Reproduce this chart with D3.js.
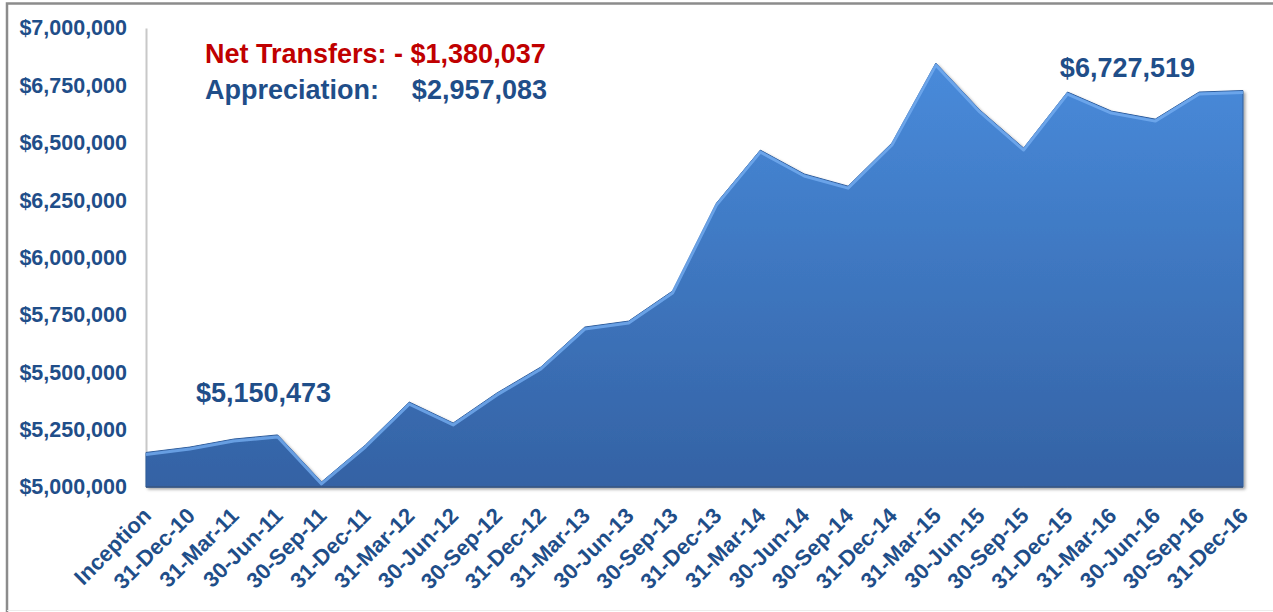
<!DOCTYPE html>
<html>
<head>
<meta charset="utf-8">
<script src="https://cdn.jsdelivr.net/npm/d3@7"></script>
<style>
    html, body { margin: 0; padding: 0; background: #ffffff; }
    svg { display: block; font-family: "Liberation Sans", Arial, sans-serif; }
</style>
</head>
<body>
<svg id="chart" width="1273" height="612"></svg>
<script>
    // === Data ===
    const periods = [
        'Inception', '31-Dec-10', '31-Mar-11', '30-Jun-11', '30-Sep-11', '31-Dec-11',
        '31-Mar-12', '30-Jun-12', '30-Sep-12', '31-Dec-12', '31-Mar-13', '30-Jun-13',
        '30-Sep-13', '31-Dec-13', '31-Mar-14', '30-Jun-14', '30-Sep-14', '31-Dec-14',
        '31-Mar-15', '30-Jun-15', '30-Sep-15', '31-Dec-15', '31-Mar-16', '30-Jun-16',
        '30-Sep-16', '31-Dec-16'
    ];
    const values = [
        5150473, 5174000, 5209000, 5227000, 5022000, 5183000,
        5370000, 5279000, 5410000, 5523000, 5697000, 5723000,
        5854000, 6237000, 6468000, 6364000, 6311000, 6499000,
        6847000, 6643000, 6477000, 6721000, 6638000, 6603000,
        6721000, 6727519
    ];
    const yTicks = [5000000, 5250000, 5500000, 5750000, 6000000, 6250000, 6500000, 6750000, 7000000];

    const netTransfers = -1380037;
    const appreciation = 2957083;

    const data = periods.map((p, i) => ({ period: p, value: values[i] }));

    const navy = '#1f4e89';
    const red = '#c00000';
    const money = d3.format(',');

    const svg = d3.select('#chart');

    // frame
    svg.append('path')
        .attr('d', 'M7,612 V3.5 H1273')
        .attr('fill', 'none')
        .attr('stroke', '#8c8c8c')
        .attr('stroke-width', 2.5);
    svg.append('line')
        .attr('x1', 7).attr('x2', 1273).attr('y1', 610.5).attr('y2', 610.5)
        .attr('stroke', '#ececec').attr('stroke-width', 1);

    const x = d3.scalePoint().domain(periods).range([146, 1243]).padding(0);
    const y = d3.scaleLinear().domain([5000000, 7000000]).range([487, 28]);

    // defs
    const defs = svg.append('defs');
    const grad = defs.append('linearGradient')
        .attr('id', 'areaFill')
        .attr('gradientUnits', 'userSpaceOnUse')
        .attr('x1', 0).attr('y1', y(7000000)).attr('x2', 0).attr('y2', y(5000000));
    grad.append('stop').attr('offset', '0%').attr('stop-color', '#4a8edf');
    grad.append('stop').attr('offset', '100%').attr('stop-color', '#3462a4');

    const shadow = defs.append('filter').attr('id', 'shadow')
        .attr('x', '-5%').attr('y', '-5%').attr('width', '110%').attr('height', '115%');
    shadow.append('feDropShadow')
        .attr('dx', 2).attr('dy', 2).attr('stdDeviation', 1.6)
        .attr('flood-color', '#000').attr('flood-opacity', 0.35);

    // y axis
    const yAxis = svg.append('g')
        .attr('transform', `translate(${x(periods[0])},0)`)
        .call(d3.axisLeft(y).tickValues(yTicks).tickSize(0).tickPadding(19)
            .tickFormat(d => '$' + money(d)));
    yAxis.select('.domain').attr('stroke', '#c8c8c8').attr('stroke-width', 2);
    yAxis.selectAll('text')
        .attr('fill', navy)
        .attr('font-size', 21.5)
        .attr('font-weight', 700)
        .attr('font-family', '"Liberation Sans", Arial, sans-serif');

    // area
    const area = d3.area()
        .x(d => x(d.period))
        .y0(y(5000000))
        .y1(d => y(d.value));
    const topLine = d3.line()
        .x(d => x(d.period))
        .y(d => y(d.value) + 2);

    svg.append('path')
        .datum(data)
        .attr('d', area)
        .attr('fill', 'url(#areaFill)')
        .attr('stroke', '#2f5d9c')
        .attr('stroke-width', 1)
        .attr('filter', 'url(#shadow)');

    svg.append('path')
        .datum(data)
        .attr('d', topLine)
        .attr('fill', 'none')
        .attr('stroke', '#74adf0')
        .attr('stroke-opacity', 0.8)
        .attr('stroke-width', 3)
        .attr('stroke-linejoin', 'round');

    svg.append('line')
        .attr('x1', x(periods[0])).attr('x2', x(periods[periods.length - 1]))
        .attr('y1', y(5000000)).attr('y2', y(5000000))
        .attr('stroke', '#3a5680').attr('stroke-width', 1.5);

    // x axis
    const xAxis = svg.append('g')
        .attr('transform', `translate(0,${y(5000000)})`)
        .call(d3.axisBottom(x).tickSize(0));
    xAxis.select('.domain').remove();
    xAxis.selectAll('text')
        .attr('x', 0).attr('y', 0).attr('dy', 0)
        .attr('text-anchor', 'end')
        .attr('transform', 'translate(6,30) rotate(-45)')
        .attr('fill', navy)
        .attr('font-size', 22)
        .attr('font-weight', 700)
        .attr('font-family', '"Liberation Sans", Arial, sans-serif');

    // annotations
    const note = svg.append('g')
        .attr('font-weight', 700)
        .attr('font-size', 27);
    note.append('text')
        .attr('x', 205).attr('y', 63)
        .attr('fill', red)
        .text('Net Transfers: - $' + money(Math.abs(netTransfers)));
    note.append('text')
        .attr('x', 205).attr('y', 99)
        .attr('fill', navy)
        .text('Appreciation:');
    note.append('text')
        .attr('x', 547).attr('y', 99)
        .attr('text-anchor', 'end')
        .attr('fill', navy)
        .text('$' + money(appreciation));

    const first = data[0], last = data[data.length - 1];
    note.append('text')
        .attr('x', x(first.period) + 50).attr('y', 402)
        .attr('fill', navy)
        .text('$' + money(first.value));
    note.append('text')
        .attr('x', x(last.period) - 48).attr('y', 77)
        .attr('text-anchor', 'end')
        .attr('fill', navy)
        .text('$' + money(last.value));
</script>
</body>
</html>
